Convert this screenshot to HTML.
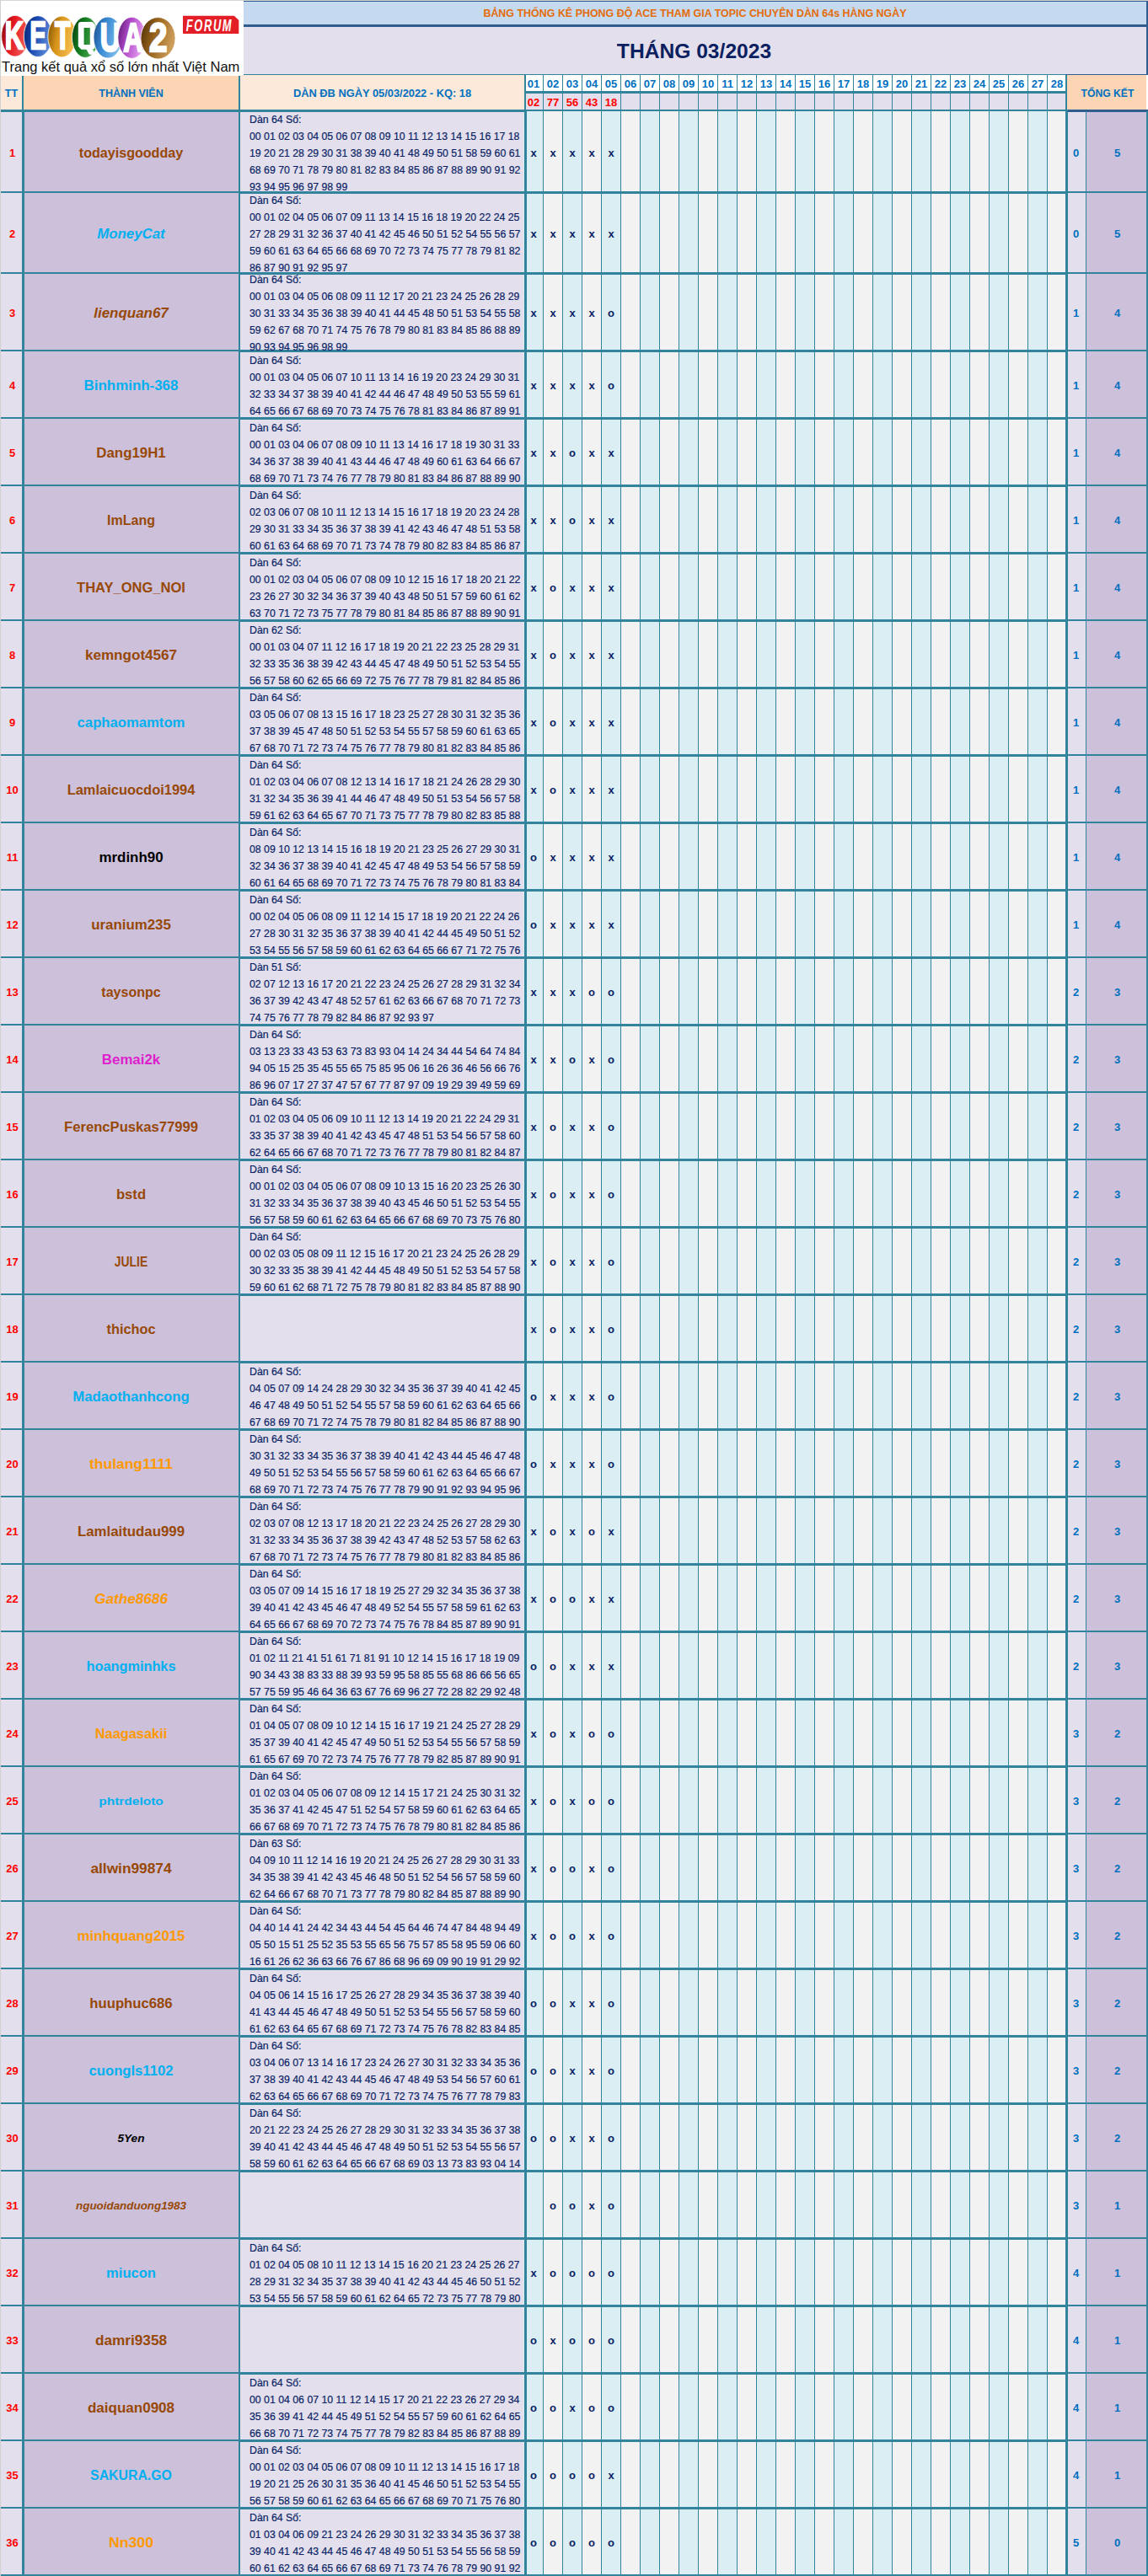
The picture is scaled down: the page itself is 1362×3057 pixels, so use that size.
<!DOCTYPE html>
<html><head><meta charset="utf-8"><title>KETQUA2</title><style>
html,body{margin:0;padding:0;background:#fff;overflow:hidden}
#p{position:relative;width:1362px;height:3057px;overflow:hidden;font-family:"Liberation Sans",sans-serif}
#p div{position:absolute}
.tag{font-size:16.5px;line-height:22px;color:#111;white-space:nowrap}
.ttl{font-size:12px;line-height:27px;color:#e46c0a;font-weight:bold;text-align:center;white-space:nowrap}
.mon{font-size:23px;line-height:58px;color:#0b2060;font-weight:bold;text-align:center;white-space:nowrap}
.hd{font-size:12.5px;line-height:41px;color:#0070c0;font-weight:bold;text-align:center;white-space:nowrap}
.dh{font-size:13px;line-height:20px;color:#0070c0;font-weight:bold;text-align:center}
.dr{font-size:13px;line-height:20px;color:#ff0000;font-weight:bold;text-align:center}
.tt{font-size:13px;line-height:20px;color:#ff0000;font-weight:bold;text-align:center}
.tk{font-size:13px;line-height:20px;color:#0070c0;font-weight:bold;text-align:center}
.mk{font-size:13px;line-height:20px;color:#0a1f66;font-weight:bold;text-align:center}
.nm{font-size:16px;line-height:22px;font-weight:bold;text-align:center;white-space:nowrap}
.dn{font-size:12.3px;line-height:20px;color:#0a1f66;white-space:nowrap;-webkit-text-stroke:0.2px #0a1f66}
</style></head>
<body><div id="p">
<div style="left:0px;top:0px;width:1362px;height:3057px;background:#ffffff;"></div>
<div style="left:0px;top:0px;width:1362px;height:1px;background:#d6d6d6;"></div>
<div style="left:0px;top:0px;width:1px;height:3057px;background:#d0d0d0;"></div>
<div style="left:289px;top:1px;width:1073px;height:1px;background:#2f5d8f;"></div>
<div style="left:289px;top:2px;width:1071px;height:27px;background:#c5d9f1;"></div>
<div style="left:289px;top:29px;width:1073px;height:3px;background:#2f5d8f;"></div>
<div style="left:289px;top:32px;width:1071px;height:56px;background:#e4dfec;"></div>
<div style="left:1360px;top:1px;width:2px;height:88px;background:#2f5d8f;"></div>
<div style="left:1px;top:90px;width:25px;height:40px;background:#fde9d9;"></div>
<div style="left:28px;top:90px;width:255px;height:40px;background:#fcd5b4;"></div>
<div style="left:285px;top:89px;width:337px;height:41px;background:#fde9d9;"></div>
<div style="left:1266px;top:89px;width:94px;height:41px;background:#fcd5b4;"></div>
<div style="left:624px;top:88px;width:641px;height:21px;background:#ffffff;"></div>
<div style="left:624px;top:110px;width:641px;height:21px;background:#e4dfec;"></div>
<div style="left:1px;top:132px;width:25px;height:2925px;background:#e4dfec;"></div>
<div style="left:28px;top:132px;width:255px;height:2925px;background:#ccc0da;"></div>
<div style="left:285px;top:132px;width:337px;height:2925px;background:#e4dfec;"></div>
<div style="left:624px;top:132px;width:641px;height:2925px;background:#f2f2f2;"></div>
<div style="left:621px;top:132px;width:23px;height:2925px;background:#daeef3;"></div>
<div style="left:667px;top:132px;width:23px;height:2925px;background:#daeef3;"></div>
<div style="left:713px;top:132px;width:23px;height:2925px;background:#daeef3;"></div>
<div style="left:759px;top:132px;width:23px;height:2925px;background:#daeef3;"></div>
<div style="left:805px;top:132px;width:23px;height:2925px;background:#daeef3;"></div>
<div style="left:851px;top:132px;width:23px;height:2925px;background:#daeef3;"></div>
<div style="left:897px;top:132px;width:23px;height:2925px;background:#daeef3;"></div>
<div style="left:943px;top:132px;width:23px;height:2925px;background:#daeef3;"></div>
<div style="left:989px;top:132px;width:23px;height:2925px;background:#daeef3;"></div>
<div style="left:1035px;top:132px;width:23px;height:2925px;background:#daeef3;"></div>
<div style="left:1081px;top:132px;width:23px;height:2925px;background:#daeef3;"></div>
<div style="left:1127px;top:132px;width:23px;height:2925px;background:#daeef3;"></div>
<div style="left:1173px;top:132px;width:23px;height:2925px;background:#daeef3;"></div>
<div style="left:1219px;top:132px;width:23px;height:2925px;background:#daeef3;"></div>
<div style="left:1266px;top:132px;width:22px;height:2925px;background:#e4dfec;"></div>
<div style="left:1289px;top:132px;width:71px;height:2925px;background:#ccc0da;"></div>
<div style="left:26px;top:90px;width:2px;height:40px;background:#31849b;"></div>
<div style="left:283px;top:90px;width:2px;height:40px;background:#31849b;"></div>
<div style="left:622px;top:88px;width:2px;height:43px;background:#31849b;"></div>
<div style="left:1264px;top:88px;width:2px;height:43px;background:#31849b;"></div>
<div style="left:289px;top:88px;width:976px;height:1px;background:#31849b;"></div>
<div style="left:624px;top:108px;width:641px;height:3px;background:#31849b;"></div>
<div style="left:622px;top:130px;width:643px;height:2px;background:#31849b;"></div>
<div style="left:1264px;top:88px;width:98px;height:1px;background:#2f5d8f;"></div>
<div style="left:1264px;top:130px;width:98px;height:3px;background:#2f5d8f;"></div>
<div style="left:1px;top:130px;width:622px;height:3px;background:#31849b;"></div>
<div style="left:644px;top:88px;width:1px;height:2969px;background:#31849b;"></div>
<div style="left:667px;top:88px;width:1px;height:2969px;background:#31849b;"></div>
<div style="left:690px;top:88px;width:1px;height:2969px;background:#31849b;"></div>
<div style="left:713px;top:88px;width:1px;height:2969px;background:#31849b;"></div>
<div style="left:736px;top:88px;width:1px;height:2969px;background:#31849b;"></div>
<div style="left:759px;top:88px;width:1px;height:2969px;background:#31849b;"></div>
<div style="left:782px;top:88px;width:1px;height:2969px;background:#31849b;"></div>
<div style="left:805px;top:88px;width:1px;height:2969px;background:#31849b;"></div>
<div style="left:828px;top:88px;width:1px;height:2969px;background:#31849b;"></div>
<div style="left:851px;top:88px;width:1px;height:2969px;background:#31849b;"></div>
<div style="left:874px;top:88px;width:1px;height:2969px;background:#31849b;"></div>
<div style="left:897px;top:88px;width:1px;height:2969px;background:#31849b;"></div>
<div style="left:920px;top:88px;width:1px;height:2969px;background:#31849b;"></div>
<div style="left:943px;top:88px;width:1px;height:2969px;background:#31849b;"></div>
<div style="left:966px;top:88px;width:1px;height:2969px;background:#31849b;"></div>
<div style="left:989px;top:88px;width:1px;height:2969px;background:#31849b;"></div>
<div style="left:1012px;top:88px;width:1px;height:2969px;background:#31849b;"></div>
<div style="left:1035px;top:88px;width:1px;height:2969px;background:#31849b;"></div>
<div style="left:1058px;top:88px;width:1px;height:2969px;background:#31849b;"></div>
<div style="left:1081px;top:88px;width:1px;height:2969px;background:#31849b;"></div>
<div style="left:1104px;top:88px;width:1px;height:2969px;background:#31849b;"></div>
<div style="left:1127px;top:88px;width:1px;height:2969px;background:#31849b;"></div>
<div style="left:1150px;top:88px;width:1px;height:2969px;background:#31849b;"></div>
<div style="left:1173px;top:88px;width:1px;height:2969px;background:#31849b;"></div>
<div style="left:1196px;top:88px;width:1px;height:2969px;background:#31849b;"></div>
<div style="left:1219px;top:88px;width:1px;height:2969px;background:#31849b;"></div>
<div style="left:1242px;top:88px;width:1px;height:2969px;background:#31849b;"></div>
<div style="left:26px;top:130px;width:3px;height:2927px;background:#31849b;"></div>
<div style="left:283px;top:130px;width:2px;height:2927px;background:#31849b;"></div>
<div style="left:622px;top:130px;width:3px;height:2927px;background:#31849b;"></div>
<div style="left:1264px;top:130px;width:3px;height:2927px;background:#31849b;"></div>
<div style="left:1288px;top:132px;width:1px;height:2925px;background:#31849b;"></div>
<div style="left:1360px;top:132px;width:2px;height:2925px;background:#31849b;"></div>
<div style="left:1px;top:227px;width:283px;height:2px;background:#31849b;"></div>
<div style="left:283px;top:227px;width:982px;height:3px;background:#31849b;"></div>
<div style="left:1265px;top:227px;width:97px;height:2px;background:#31849b;"></div>
<div style="left:1px;top:323px;width:283px;height:2px;background:#31849b;"></div>
<div style="left:283px;top:323px;width:982px;height:3px;background:#31849b;"></div>
<div style="left:1265px;top:323px;width:97px;height:2px;background:#31849b;"></div>
<div style="left:1px;top:415px;width:283px;height:2px;background:#31849b;"></div>
<div style="left:283px;top:415px;width:982px;height:3px;background:#31849b;"></div>
<div style="left:1265px;top:415px;width:97px;height:2px;background:#31849b;"></div>
<div style="left:1px;top:495px;width:283px;height:2px;background:#31849b;"></div>
<div style="left:283px;top:495px;width:982px;height:3px;background:#31849b;"></div>
<div style="left:1265px;top:495px;width:97px;height:2px;background:#31849b;"></div>
<div style="left:1px;top:575px;width:283px;height:2px;background:#31849b;"></div>
<div style="left:283px;top:575px;width:982px;height:3px;background:#31849b;"></div>
<div style="left:1265px;top:575px;width:97px;height:2px;background:#31849b;"></div>
<div style="left:1px;top:655px;width:283px;height:2px;background:#31849b;"></div>
<div style="left:283px;top:655px;width:982px;height:3px;background:#31849b;"></div>
<div style="left:1265px;top:655px;width:97px;height:2px;background:#31849b;"></div>
<div style="left:1px;top:735px;width:283px;height:2px;background:#31849b;"></div>
<div style="left:283px;top:735px;width:982px;height:3px;background:#31849b;"></div>
<div style="left:1265px;top:735px;width:97px;height:2px;background:#31849b;"></div>
<div style="left:1px;top:815px;width:283px;height:2px;background:#31849b;"></div>
<div style="left:283px;top:815px;width:982px;height:3px;background:#31849b;"></div>
<div style="left:1265px;top:815px;width:97px;height:2px;background:#31849b;"></div>
<div style="left:1px;top:895px;width:283px;height:2px;background:#31849b;"></div>
<div style="left:283px;top:895px;width:982px;height:3px;background:#31849b;"></div>
<div style="left:1265px;top:895px;width:97px;height:2px;background:#31849b;"></div>
<div style="left:1px;top:975px;width:283px;height:2px;background:#31849b;"></div>
<div style="left:283px;top:975px;width:982px;height:3px;background:#31849b;"></div>
<div style="left:1265px;top:975px;width:97px;height:2px;background:#31849b;"></div>
<div style="left:1px;top:1055px;width:283px;height:2px;background:#31849b;"></div>
<div style="left:283px;top:1055px;width:982px;height:3px;background:#31849b;"></div>
<div style="left:1265px;top:1055px;width:97px;height:2px;background:#31849b;"></div>
<div style="left:1px;top:1135px;width:283px;height:2px;background:#31849b;"></div>
<div style="left:283px;top:1135px;width:982px;height:3px;background:#31849b;"></div>
<div style="left:1265px;top:1135px;width:97px;height:2px;background:#31849b;"></div>
<div style="left:1px;top:1215px;width:283px;height:2px;background:#31849b;"></div>
<div style="left:283px;top:1215px;width:982px;height:3px;background:#31849b;"></div>
<div style="left:1265px;top:1215px;width:97px;height:2px;background:#31849b;"></div>
<div style="left:1px;top:1295px;width:283px;height:2px;background:#31849b;"></div>
<div style="left:283px;top:1295px;width:982px;height:3px;background:#31849b;"></div>
<div style="left:1265px;top:1295px;width:97px;height:2px;background:#31849b;"></div>
<div style="left:1px;top:1375px;width:283px;height:2px;background:#31849b;"></div>
<div style="left:283px;top:1375px;width:982px;height:3px;background:#31849b;"></div>
<div style="left:1265px;top:1375px;width:97px;height:2px;background:#31849b;"></div>
<div style="left:1px;top:1455px;width:283px;height:2px;background:#31849b;"></div>
<div style="left:283px;top:1455px;width:982px;height:3px;background:#31849b;"></div>
<div style="left:1265px;top:1455px;width:97px;height:2px;background:#31849b;"></div>
<div style="left:1px;top:1535px;width:283px;height:2px;background:#31849b;"></div>
<div style="left:283px;top:1535px;width:982px;height:3px;background:#31849b;"></div>
<div style="left:1265px;top:1535px;width:97px;height:2px;background:#31849b;"></div>
<div style="left:1px;top:1615px;width:283px;height:2px;background:#31849b;"></div>
<div style="left:283px;top:1615px;width:982px;height:3px;background:#31849b;"></div>
<div style="left:1265px;top:1615px;width:97px;height:2px;background:#31849b;"></div>
<div style="left:1px;top:1695px;width:283px;height:2px;background:#31849b;"></div>
<div style="left:283px;top:1695px;width:982px;height:3px;background:#31849b;"></div>
<div style="left:1265px;top:1695px;width:97px;height:2px;background:#31849b;"></div>
<div style="left:1px;top:1775px;width:283px;height:2px;background:#31849b;"></div>
<div style="left:283px;top:1775px;width:982px;height:3px;background:#31849b;"></div>
<div style="left:1265px;top:1775px;width:97px;height:2px;background:#31849b;"></div>
<div style="left:1px;top:1855px;width:283px;height:2px;background:#31849b;"></div>
<div style="left:283px;top:1855px;width:982px;height:3px;background:#31849b;"></div>
<div style="left:1265px;top:1855px;width:97px;height:2px;background:#31849b;"></div>
<div style="left:1px;top:1935px;width:283px;height:2px;background:#31849b;"></div>
<div style="left:283px;top:1935px;width:982px;height:3px;background:#31849b;"></div>
<div style="left:1265px;top:1935px;width:97px;height:2px;background:#31849b;"></div>
<div style="left:1px;top:2015px;width:283px;height:2px;background:#31849b;"></div>
<div style="left:283px;top:2015px;width:982px;height:3px;background:#31849b;"></div>
<div style="left:1265px;top:2015px;width:97px;height:2px;background:#31849b;"></div>
<div style="left:1px;top:2095px;width:283px;height:2px;background:#31849b;"></div>
<div style="left:283px;top:2095px;width:982px;height:3px;background:#31849b;"></div>
<div style="left:1265px;top:2095px;width:97px;height:2px;background:#31849b;"></div>
<div style="left:1px;top:2175px;width:283px;height:2px;background:#31849b;"></div>
<div style="left:283px;top:2175px;width:982px;height:3px;background:#31849b;"></div>
<div style="left:1265px;top:2175px;width:97px;height:2px;background:#31849b;"></div>
<div style="left:1px;top:2255px;width:283px;height:2px;background:#31849b;"></div>
<div style="left:283px;top:2255px;width:982px;height:3px;background:#31849b;"></div>
<div style="left:1265px;top:2255px;width:97px;height:2px;background:#31849b;"></div>
<div style="left:1px;top:2335px;width:283px;height:2px;background:#31849b;"></div>
<div style="left:283px;top:2335px;width:982px;height:3px;background:#31849b;"></div>
<div style="left:1265px;top:2335px;width:97px;height:2px;background:#31849b;"></div>
<div style="left:1px;top:2415px;width:283px;height:2px;background:#31849b;"></div>
<div style="left:283px;top:2415px;width:982px;height:3px;background:#31849b;"></div>
<div style="left:1265px;top:2415px;width:97px;height:2px;background:#31849b;"></div>
<div style="left:1px;top:2495px;width:283px;height:2px;background:#31849b;"></div>
<div style="left:283px;top:2495px;width:982px;height:3px;background:#31849b;"></div>
<div style="left:1265px;top:2495px;width:97px;height:2px;background:#31849b;"></div>
<div style="left:1px;top:2575px;width:283px;height:2px;background:#31849b;"></div>
<div style="left:283px;top:2575px;width:982px;height:3px;background:#31849b;"></div>
<div style="left:1265px;top:2575px;width:97px;height:2px;background:#31849b;"></div>
<div style="left:1px;top:2655px;width:283px;height:2px;background:#31849b;"></div>
<div style="left:283px;top:2655px;width:982px;height:3px;background:#31849b;"></div>
<div style="left:1265px;top:2655px;width:97px;height:2px;background:#31849b;"></div>
<div style="left:1px;top:2735px;width:283px;height:2px;background:#31849b;"></div>
<div style="left:283px;top:2735px;width:982px;height:3px;background:#31849b;"></div>
<div style="left:1265px;top:2735px;width:97px;height:2px;background:#31849b;"></div>
<div style="left:1px;top:2815px;width:283px;height:2px;background:#31849b;"></div>
<div style="left:283px;top:2815px;width:982px;height:3px;background:#31849b;"></div>
<div style="left:1265px;top:2815px;width:97px;height:2px;background:#31849b;"></div>
<div style="left:1px;top:2895px;width:283px;height:2px;background:#31849b;"></div>
<div style="left:283px;top:2895px;width:982px;height:3px;background:#31849b;"></div>
<div style="left:1265px;top:2895px;width:97px;height:2px;background:#31849b;"></div>
<div style="left:1px;top:2975px;width:283px;height:2px;background:#31849b;"></div>
<div style="left:283px;top:2975px;width:982px;height:3px;background:#31849b;"></div>
<div style="left:1265px;top:2975px;width:97px;height:2px;background:#31849b;"></div>
<div style="left:1px;top:3055px;width:283px;height:2px;background:#31849b;"></div>
<div style="left:283px;top:3055px;width:982px;height:3px;background:#31849b;"></div>
<div style="left:1265px;top:3055px;width:97px;height:2px;background:#31849b;"></div>
<svg style="position:absolute;left:0;top:0" width="289" height="89" viewBox="0 0 289 89"><defs>
<linearGradient id="gr" x1="0" y1="0" x2="1" y2="0.3"><stop offset="0" stop-color="#7c0a0e"/><stop offset="0.45" stop-color="#e3161d"/><stop offset="1" stop-color="#f25a5a"/></linearGradient>
<linearGradient id="gb" x1="0" y1="0" x2="1" y2="0.3"><stop offset="0" stop-color="#0b2468"/><stop offset="0.45" stop-color="#1846b0"/><stop offset="1" stop-color="#5b8ad8"/></linearGradient>
<linearGradient id="go" x1="0" y1="0" x2="1" y2="0.3"><stop offset="0" stop-color="#7a4c06"/><stop offset="0.45" stop-color="#d8941a"/><stop offset="1" stop-color="#f6be50"/></linearGradient>
<linearGradient id="gg" x1="0" y1="0" x2="1" y2="0.3"><stop offset="0" stop-color="#063c0c"/><stop offset="0.45" stop-color="#137a20"/><stop offset="1" stop-color="#4aaa50"/></linearGradient>
<linearGradient id="gl" x1="0" y1="0" x2="1" y2="0.3"><stop offset="0" stop-color="#1a4a88"/><stop offset="0.45" stop-color="#3888d2"/><stop offset="1" stop-color="#80c0f0"/></linearGradient>
<linearGradient id="gp" x1="0" y1="0" x2="1" y2="0.3"><stop offset="0" stop-color="#56186e"/><stop offset="0.45" stop-color="#b048c8"/><stop offset="1" stop-color="#e6a0f0"/></linearGradient>
<linearGradient id="gn" x1="0" y1="0" x2="1" y2="0.3"><stop offset="0" stop-color="#4a2c06"/><stop offset="0.45" stop-color="#94601a"/><stop offset="1" stop-color="#cc9c5a"/></linearGradient>
</defs>
<ellipse cx="17.9" cy="42.7" rx="16.2" ry="24.4" fill="url(#gr)" stroke="#ffffff" stroke-width="0.8"/>
<text transform="translate(16.85 58.2) scale(0.712 1.084)" fill="#ffffff" stroke="#ffffff" stroke-width="2.2" font-family="Liberation Sans" font-weight="bold" font-size="43" text-anchor="middle">K</text>
<ellipse cx="45.0" cy="43.1" rx="16.7" ry="24.4" fill="url(#gb)" stroke="#ffffff" stroke-width="0.8"/>
<text transform="translate(45.1 58.2) scale(0.675 1.084)" fill="#ffffff" stroke="#ffffff" stroke-width="2.2" font-family="Liberation Sans" font-weight="bold" font-size="43" text-anchor="middle">E</text>
<ellipse cx="73.5" cy="43.5" rx="16.6" ry="24.4" fill="url(#go)" stroke="#ffffff" stroke-width="0.8"/>
<text transform="translate(74.25 58.2) scale(0.709 1.084)" fill="#ffffff" stroke="#ffffff" stroke-width="2.2" font-family="Liberation Sans" font-weight="bold" font-size="43" text-anchor="middle">T</text>
<ellipse cx="101.2" cy="44.2" rx="15.8" ry="24.2" fill="url(#gg)" stroke="#ffffff" stroke-width="0.8"/>
<path fill="#ffffff" fill-rule="evenodd" d="M96 26 H109.5 L112.8 29.3 V55 Q112.8 58 110 58.5 L113.5 64.8 H106 L102.5 58.8 H96.5 L92.8 55 V29.5 Q92.8 26 96 26 Z M99.6 33 V53 H106.8 V33 Z"/>
<ellipse cx="128.0" cy="44.5" rx="17.0" ry="24.5" fill="url(#gl)" stroke="#ffffff" stroke-width="0.8"/>
<text transform="translate(130.7 60.8) scale(0.778 1.103)" fill="#ffffff" stroke="#ffffff" stroke-width="2.2" font-family="Liberation Sans" font-weight="bold" font-size="43" text-anchor="middle">U</text>
<ellipse cx="156.5" cy="44.8" rx="16.6" ry="24.5" fill="url(#gp)" stroke="#ffffff" stroke-width="0.8"/>
<text transform="translate(158.0 60.8) scale(0.756 1.103)" fill="#ffffff" stroke="#ffffff" stroke-width="2.2" font-family="Liberation Sans" font-weight="bold" font-size="43" text-anchor="middle">A</text>
<ellipse cx="187.5" cy="45.3" rx="20.5" ry="24.7" fill="url(#gn)" stroke="#ffffff" stroke-width="0.8"/>
<text transform="translate(187.7 60.8) scale(0.894 1.103)" fill="#ffffff" stroke="#ffffff" stroke-width="2.2" font-family="Liberation Sans" font-weight="bold" font-size="43" text-anchor="middle">2</text>
<path d="M217 18.8 L277.8 18.8 L283.3 24 L283.3 40 L217 40 Z" fill="#e41e26"/>
<text transform="translate(248.5 37) scale(0.66 1)" fill="#ffffff" font-family="Liberation Sans" font-weight="bold" font-style="italic" font-size="19.5" text-anchor="middle" letter-spacing="2.5">FORUM</text>
</svg>
<div class="tag" style="left:2px;top:68px;width:290px;height:22px;transform:scaleX(1.0);transform-origin:0 0">Trang kết quả xổ số lớn nhất Việt Nam</div>
<div class="ttl" style="left:289px;top:2.5px;width:1071px;height:27px;transform:scaleX(1.037)">BẢNG THỐNG KÊ PHONG ĐỘ ACE THAM GIA TOPIC CHUYÊN DÀN 64s HÀNG NGÀY</div>
<div class="mon" style="left:288px;top:32px;width:1071px;height:56px;transform:scaleX(1.07)">THÁNG 03/2023</div>
<div class="hd" style="left:1px;top:91px;width:25px;height:41px;transform:scaleX(1.0)">TT</div>
<div class="hd" style="left:28px;top:91px;width:255px;height:41px;transform:scaleX(1.0)">THÀNH VIÊN</div>
<div class="hd" style="left:285px;top:91px;width:337px;height:41px;transform:scaleX(1.028)">DÀN ĐB NGÀY 05/03/2022 - KQ: 18</div>
<div class="hd" style="left:1267px;top:91px;width:94px;height:41px;transform:scaleX(0.973)">TỔNG KẾT</div>
<div class="dh" style="left:622px;top:90px;width:22px;height:19px;">01</div>
<div class="dr" style="left:622px;top:112px;width:22px;height:19px;">02</div>
<div class="dh" style="left:645px;top:90px;width:22px;height:19px;">02</div>
<div class="dr" style="left:645px;top:112px;width:22px;height:19px;">77</div>
<div class="dh" style="left:668px;top:90px;width:22px;height:19px;">03</div>
<div class="dr" style="left:668px;top:112px;width:22px;height:19px;">56</div>
<div class="dh" style="left:691px;top:90px;width:22px;height:19px;">04</div>
<div class="dr" style="left:691px;top:112px;width:22px;height:19px;">43</div>
<div class="dh" style="left:714px;top:90px;width:22px;height:19px;">05</div>
<div class="dr" style="left:714px;top:112px;width:22px;height:19px;">18</div>
<div class="dh" style="left:737px;top:90px;width:22px;height:19px;">06</div>
<div class="dh" style="left:760px;top:90px;width:22px;height:19px;">07</div>
<div class="dh" style="left:783px;top:90px;width:22px;height:19px;">08</div>
<div class="dh" style="left:806px;top:90px;width:22px;height:19px;">09</div>
<div class="dh" style="left:829px;top:90px;width:22px;height:19px;">10</div>
<div class="dh" style="left:852px;top:90px;width:22px;height:19px;">11</div>
<div class="dh" style="left:875px;top:90px;width:22px;height:19px;">12</div>
<div class="dh" style="left:898px;top:90px;width:22px;height:19px;">13</div>
<div class="dh" style="left:921px;top:90px;width:22px;height:19px;">14</div>
<div class="dh" style="left:944px;top:90px;width:22px;height:19px;">15</div>
<div class="dh" style="left:967px;top:90px;width:22px;height:19px;">16</div>
<div class="dh" style="left:990px;top:90px;width:22px;height:19px;">17</div>
<div class="dh" style="left:1013px;top:90px;width:22px;height:19px;">18</div>
<div class="dh" style="left:1036px;top:90px;width:22px;height:19px;">19</div>
<div class="dh" style="left:1059px;top:90px;width:22px;height:19px;">20</div>
<div class="dh" style="left:1082px;top:90px;width:22px;height:19px;">21</div>
<div class="dh" style="left:1105px;top:90px;width:22px;height:19px;">22</div>
<div class="dh" style="left:1128px;top:90px;width:22px;height:19px;">23</div>
<div class="dh" style="left:1151px;top:90px;width:22px;height:19px;">24</div>
<div class="dh" style="left:1174px;top:90px;width:22px;height:19px;">25</div>
<div class="dh" style="left:1197px;top:90px;width:22px;height:19px;">26</div>
<div class="dh" style="left:1220px;top:90px;width:22px;height:19px;">27</div>
<div class="dh" style="left:1243px;top:90px;width:22px;height:19px;">28</div>
<div class="tt" style="left:2px;top:172px;width:25px;height:20px;">1</div>
<div class="nm" style="left:28px;top:171px;width:255px;height:22px;color:#984807;font-size:16.00px;transform:scaleX(1.0049)">todayisgoodday</div>
<div class="dn" style="left:296px;top:131.9px;width:330px;height:100px;transform:scaleX(1.0);transform-origin:0 0">Dàn 64 Số:<br>00 01 02 03 04 05 06 07 08 09 10 11 12 13 14 15 16 17 18<br>19 20 21 28 29 30 31 38 39 40 41 48 49 50 51 58 59 60 61<br>68 69 70 71 78 79 80 81 82 83 84 85 86 87 88 89 90 91 92<br>93 94 95 96 97 98 99</div>
<div class="mk" style="left:622px;top:172px;width:22px;height:20px;">x</div>
<div class="mk" style="left:645px;top:172px;width:22px;height:20px;">x</div>
<div class="mk" style="left:668px;top:172px;width:22px;height:20px;">x</div>
<div class="mk" style="left:691px;top:172px;width:22px;height:20px;">x</div>
<div class="mk" style="left:714px;top:172px;width:22px;height:20px;">x</div>
<div class="tk" style="left:1266px;top:172px;width:21px;height:20px;">0</div>
<div class="tk" style="left:1290px;top:172px;width:71px;height:20px;">5</div>
<div class="tt" style="left:2px;top:268px;width:25px;height:20px;">2</div>
<div class="nm" style="left:28px;top:267px;width:255px;height:22px;color:#00b0f0;font-style:italic;font-size:16.00px;transform:scaleX(1.0519)">MoneyCat</div>
<div class="dn" style="left:296px;top:227.9px;width:330px;height:100px;transform:scaleX(1.0);transform-origin:0 0">Dàn 64 Số:<br>00 01 02 04 05 06 07 09 11 13 14 15 16 18 19 20 22 24 25<br>27 28 29 31 32 36 37 40 41 42 45 46 50 51 52 54 55 56 57<br>59 60 61 63 64 65 66 68 69 70 72 73 74 75 77 78 79 81 82<br>86 87 90 91 92 95 97</div>
<div class="mk" style="left:622px;top:268px;width:22px;height:20px;">x</div>
<div class="mk" style="left:645px;top:268px;width:22px;height:20px;">x</div>
<div class="mk" style="left:668px;top:268px;width:22px;height:20px;">x</div>
<div class="mk" style="left:691px;top:268px;width:22px;height:20px;">x</div>
<div class="mk" style="left:714px;top:268px;width:22px;height:20px;">x</div>
<div class="tk" style="left:1266px;top:268px;width:21px;height:20px;">0</div>
<div class="tk" style="left:1290px;top:268px;width:71px;height:20px;">5</div>
<div class="tt" style="left:2px;top:362px;width:25px;height:20px;">3</div>
<div class="nm" style="left:28px;top:361px;width:255px;height:22px;color:#984807;font-style:italic;font-size:16.00px;transform:scaleX(1.0596)">lienquan67</div>
<div class="dn" style="left:296px;top:321.9px;width:330px;height:100px;transform:scaleX(1.0);transform-origin:0 0">Dàn 64 Số:<br>00 01 03 04 05 06 08 09 11 12 17 20 21 23 24 25 26 28 29<br>30 31 33 34 35 36 38 39 40 41 44 45 48 50 51 53 54 55 58<br>59 62 67 68 70 71 74 75 76 78 79 80 81 83 84 85 86 88 89<br>90 93 94 95 96 98 99</div>
<div class="mk" style="left:622px;top:362px;width:22px;height:20px;">x</div>
<div class="mk" style="left:645px;top:362px;width:22px;height:20px;">x</div>
<div class="mk" style="left:668px;top:362px;width:22px;height:20px;">x</div>
<div class="mk" style="left:691px;top:362px;width:22px;height:20px;">x</div>
<div class="mk" style="left:714px;top:362px;width:22px;height:20px;">o</div>
<div class="tk" style="left:1266px;top:362px;width:21px;height:20px;">1</div>
<div class="tk" style="left:1290px;top:362px;width:71px;height:20px;">4</div>
<div class="tt" style="left:2px;top:448px;width:25px;height:20px;">4</div>
<div class="nm" style="left:28px;top:447px;width:255px;height:22px;color:#00b0f0;font-size:16.00px;transform:scaleX(1.0578)">Binhminh-368</div>
<div class="dn" style="left:296px;top:417.9px;width:330px;height:100px;transform:scaleX(1.0);transform-origin:0 0">Dàn 64 Số:<br>00 01 03 04 05 06 07 10 11 13 14 16 19 20 23 24 29 30 31<br>32 33 34 37 38 39 40 41 42 44 46 47 48 49 50 53 55 59 61<br>64 65 66 67 68 69 70 73 74 75 76 78 81 83 84 86 87 89 91</div>
<div class="mk" style="left:622px;top:448px;width:22px;height:20px;">x</div>
<div class="mk" style="left:645px;top:448px;width:22px;height:20px;">x</div>
<div class="mk" style="left:668px;top:448px;width:22px;height:20px;">x</div>
<div class="mk" style="left:691px;top:448px;width:22px;height:20px;">x</div>
<div class="mk" style="left:714px;top:448px;width:22px;height:20px;">o</div>
<div class="tk" style="left:1266px;top:448px;width:21px;height:20px;">1</div>
<div class="tk" style="left:1290px;top:448px;width:71px;height:20px;">4</div>
<div class="tt" style="left:2px;top:528px;width:25px;height:20px;">5</div>
<div class="nm" style="left:28px;top:527px;width:255px;height:22px;color:#984807;font-size:16.00px;transform:scaleX(1.0519)">Dang19H1</div>
<div class="dn" style="left:296px;top:497.9px;width:330px;height:100px;transform:scaleX(1.0);transform-origin:0 0">Dàn 64 Số:<br>00 01 03 04 06 07 08 09 10 11 13 14 16 17 18 19 30 31 33<br>34 36 37 38 39 40 41 43 44 46 47 48 49 60 61 63 64 66 67<br>68 69 70 71 73 74 76 77 78 79 80 81 83 84 86 87 88 89 90</div>
<div class="mk" style="left:622px;top:528px;width:22px;height:20px;">x</div>
<div class="mk" style="left:645px;top:528px;width:22px;height:20px;">x</div>
<div class="mk" style="left:668px;top:528px;width:22px;height:20px;">o</div>
<div class="mk" style="left:691px;top:528px;width:22px;height:20px;">x</div>
<div class="mk" style="left:714px;top:528px;width:22px;height:20px;">x</div>
<div class="tk" style="left:1266px;top:528px;width:21px;height:20px;">1</div>
<div class="tk" style="left:1290px;top:528px;width:71px;height:20px;">4</div>
<div class="tt" style="left:2px;top:608px;width:25px;height:20px;">6</div>
<div class="nm" style="left:28px;top:607px;width:255px;height:22px;color:#984807;font-size:16.00px;transform:scaleX(1.0003)">ImLang</div>
<div class="dn" style="left:296px;top:577.9px;width:330px;height:100px;transform:scaleX(1.0);transform-origin:0 0">Dàn 64 Số:<br>02 03 06 07 08 10 11 12 13 14 15 16 17 18 19 20 23 24 28<br>29 30 31 33 34 35 36 37 38 39 41 42 43 46 47 48 51 53 58<br>60 61 63 64 68 69 70 71 73 74 78 79 80 82 83 84 85 86 87</div>
<div class="mk" style="left:622px;top:608px;width:22px;height:20px;">x</div>
<div class="mk" style="left:645px;top:608px;width:22px;height:20px;">x</div>
<div class="mk" style="left:668px;top:608px;width:22px;height:20px;">o</div>
<div class="mk" style="left:691px;top:608px;width:22px;height:20px;">x</div>
<div class="mk" style="left:714px;top:608px;width:22px;height:20px;">x</div>
<div class="tk" style="left:1266px;top:608px;width:21px;height:20px;">1</div>
<div class="tk" style="left:1290px;top:608px;width:71px;height:20px;">4</div>
<div class="tt" style="left:2px;top:688px;width:25px;height:20px;">7</div>
<div class="nm" style="left:28px;top:687px;width:255px;height:22px;color:#984807;font-size:16.00px;transform:scaleX(1.0323)">THAY_ONG_NOI</div>
<div class="dn" style="left:296px;top:657.9px;width:330px;height:100px;transform:scaleX(1.0);transform-origin:0 0">Dàn 64 Số:<br>00 01 02 03 04 05 06 07 08 09 10 12 15 16 17 18 20 21 22<br>23 26 27 30 32 34 36 37 39 40 43 48 50 51 57 59 60 61 62<br>63 70 71 72 73 75 77 78 79 80 81 84 85 86 87 88 89 90 91</div>
<div class="mk" style="left:622px;top:688px;width:22px;height:20px;">x</div>
<div class="mk" style="left:645px;top:688px;width:22px;height:20px;">o</div>
<div class="mk" style="left:668px;top:688px;width:22px;height:20px;">x</div>
<div class="mk" style="left:691px;top:688px;width:22px;height:20px;">x</div>
<div class="mk" style="left:714px;top:688px;width:22px;height:20px;">x</div>
<div class="tk" style="left:1266px;top:688px;width:21px;height:20px;">1</div>
<div class="tk" style="left:1290px;top:688px;width:71px;height:20px;">4</div>
<div class="tt" style="left:2px;top:768px;width:25px;height:20px;">8</div>
<div class="nm" style="left:28px;top:767px;width:255px;height:22px;color:#984807;font-size:16.00px;transform:scaleX(1.0674)">kemngot4567</div>
<div class="dn" style="left:296px;top:737.9px;width:330px;height:100px;transform:scaleX(1.0);transform-origin:0 0">Dàn 62 Số:<br>00 01 03 04 07 11 12 16 17 18 19 20 21 22 23 25 28 29 31<br>32 33 35 36 38 39 42 43 44 45 47 48 49 50 51 52 53 54 55<br>56 57 58 60 62 65 66 69 72 75 76 77 78 79 81 82 84 85 86</div>
<div class="mk" style="left:622px;top:768px;width:22px;height:20px;">x</div>
<div class="mk" style="left:645px;top:768px;width:22px;height:20px;">o</div>
<div class="mk" style="left:668px;top:768px;width:22px;height:20px;">x</div>
<div class="mk" style="left:691px;top:768px;width:22px;height:20px;">x</div>
<div class="mk" style="left:714px;top:768px;width:22px;height:20px;">x</div>
<div class="tk" style="left:1266px;top:768px;width:21px;height:20px;">1</div>
<div class="tk" style="left:1290px;top:768px;width:71px;height:20px;">4</div>
<div class="tt" style="left:2px;top:848px;width:25px;height:20px;">9</div>
<div class="nm" style="left:28px;top:847px;width:255px;height:22px;color:#00b0f0;font-size:16.00px;transform:scaleX(1.0414)">caphaomamtom</div>
<div class="dn" style="left:296px;top:817.9px;width:330px;height:100px;transform:scaleX(1.0);transform-origin:0 0">Dàn 64 Số:<br>03 05 06 07 08 13 15 16 17 18 23 25 27 28 30 31 32 35 36<br>37 38 39 45 47 48 50 51 52 53 54 55 57 58 59 60 61 63 65<br>67 68 70 71 72 73 74 75 76 77 78 79 80 81 82 83 84 85 86</div>
<div class="mk" style="left:622px;top:848px;width:22px;height:20px;">x</div>
<div class="mk" style="left:645px;top:848px;width:22px;height:20px;">o</div>
<div class="mk" style="left:668px;top:848px;width:22px;height:20px;">x</div>
<div class="mk" style="left:691px;top:848px;width:22px;height:20px;">x</div>
<div class="mk" style="left:714px;top:848px;width:22px;height:20px;">x</div>
<div class="tk" style="left:1266px;top:848px;width:21px;height:20px;">1</div>
<div class="tk" style="left:1290px;top:848px;width:71px;height:20px;">4</div>
<div class="tt" style="left:2px;top:928px;width:25px;height:20px;">10</div>
<div class="nm" style="left:28px;top:927px;width:255px;height:22px;color:#984807;font-size:16.00px;transform:scaleX(1.0271)">Lamlaicuocdoi1994</div>
<div class="dn" style="left:296px;top:897.9px;width:330px;height:100px;transform:scaleX(1.0);transform-origin:0 0">Dàn 64 Số:<br>01 02 03 04 06 07 08 12 13 14 16 17 18 21 24 26 28 29 30<br>31 32 34 35 36 39 41 44 46 47 48 49 50 51 53 54 56 57 58<br>59 61 62 63 64 65 67 70 71 73 75 77 78 79 80 82 83 85 88</div>
<div class="mk" style="left:622px;top:928px;width:22px;height:20px;">x</div>
<div class="mk" style="left:645px;top:928px;width:22px;height:20px;">o</div>
<div class="mk" style="left:668px;top:928px;width:22px;height:20px;">x</div>
<div class="mk" style="left:691px;top:928px;width:22px;height:20px;">x</div>
<div class="mk" style="left:714px;top:928px;width:22px;height:20px;">x</div>
<div class="tk" style="left:1266px;top:928px;width:21px;height:20px;">1</div>
<div class="tk" style="left:1290px;top:928px;width:71px;height:20px;">4</div>
<div class="tt" style="left:2px;top:1008px;width:25px;height:20px;">11</div>
<div class="nm" style="left:28px;top:1007px;width:255px;height:22px;color:#000000;font-size:16.00px;transform:scaleX(1.0564)">mrdinh90</div>
<div class="dn" style="left:296px;top:977.9px;width:330px;height:100px;transform:scaleX(1.0);transform-origin:0 0">Dàn 64 Số:<br>08 09 10 12 13 14 15 16 18 19 20 21 23 25 26 27 29 30 31<br>32 34 36 37 38 39 40 41 42 45 47 48 49 53 54 56 57 58 59<br>60 61 64 65 68 69 70 71 72 73 74 75 76 78 79 80 81 83 84</div>
<div class="mk" style="left:622px;top:1008px;width:22px;height:20px;">o</div>
<div class="mk" style="left:645px;top:1008px;width:22px;height:20px;">x</div>
<div class="mk" style="left:668px;top:1008px;width:22px;height:20px;">x</div>
<div class="mk" style="left:691px;top:1008px;width:22px;height:20px;">x</div>
<div class="mk" style="left:714px;top:1008px;width:22px;height:20px;">x</div>
<div class="tk" style="left:1266px;top:1008px;width:21px;height:20px;">1</div>
<div class="tk" style="left:1290px;top:1008px;width:71px;height:20px;">4</div>
<div class="tt" style="left:2px;top:1088px;width:25px;height:20px;">12</div>
<div class="nm" style="left:28px;top:1087px;width:255px;height:22px;color:#984807;font-size:16.00px;transform:scaleX(1.0540)">uranium235</div>
<div class="dn" style="left:296px;top:1057.9px;width:330px;height:100px;transform:scaleX(1.0);transform-origin:0 0">Dàn 64 Số:<br>00 02 04 05 06 08 09 11 12 14 15 17 18 19 20 21 22 24 26<br>27 28 30 31 32 35 36 37 38 39 40 41 42 44 45 49 50 51 52<br>53 54 55 56 57 58 59 60 61 62 63 64 65 66 67 71 72 75 76</div>
<div class="mk" style="left:622px;top:1088px;width:22px;height:20px;">o</div>
<div class="mk" style="left:645px;top:1088px;width:22px;height:20px;">x</div>
<div class="mk" style="left:668px;top:1088px;width:22px;height:20px;">x</div>
<div class="mk" style="left:691px;top:1088px;width:22px;height:20px;">x</div>
<div class="mk" style="left:714px;top:1088px;width:22px;height:20px;">x</div>
<div class="tk" style="left:1266px;top:1088px;width:21px;height:20px;">1</div>
<div class="tk" style="left:1290px;top:1088px;width:71px;height:20px;">4</div>
<div class="tt" style="left:2px;top:1168px;width:25px;height:20px;">13</div>
<div class="nm" style="left:28px;top:1167px;width:255px;height:22px;color:#984807;font-size:16.00px;transform:scaleX(1.0002)">taysonpc</div>
<div class="dn" style="left:296px;top:1137.9px;width:330px;height:100px;transform:scaleX(1.0);transform-origin:0 0">Dàn 51 Số:<br>02 07 12 13 16 17 20 21 22 23 24 25 26 27 28 29 31 32 34<br>36 37 39 42 43 47 48 52 57 61 62 63 66 67 68 70 71 72 73<br>74 75 76 77 78 79 82 84 86 87 92 93 97</div>
<div class="mk" style="left:622px;top:1168px;width:22px;height:20px;">x</div>
<div class="mk" style="left:645px;top:1168px;width:22px;height:20px;">x</div>
<div class="mk" style="left:668px;top:1168px;width:22px;height:20px;">x</div>
<div class="mk" style="left:691px;top:1168px;width:22px;height:20px;">o</div>
<div class="mk" style="left:714px;top:1168px;width:22px;height:20px;">o</div>
<div class="tk" style="left:1266px;top:1168px;width:21px;height:20px;">2</div>
<div class="tk" style="left:1290px;top:1168px;width:71px;height:20px;">3</div>
<div class="tt" style="left:2px;top:1248px;width:25px;height:20px;">14</div>
<div class="nm" style="left:28px;top:1247px;width:255px;height:22px;color:#dd1fcc;font-size:16.00px;transform:scaleX(1.0523)">Bemai2k</div>
<div class="dn" style="left:296px;top:1217.9px;width:330px;height:100px;transform:scaleX(1.0);transform-origin:0 0">Dàn 64 Số:<br>03 13 23 33 43 53 63 73 83 93 04 14 24 34 44 54 64 74 84<br>94 05 15 25 35 45 55 65 75 85 95 06 16 26 36 46 56 66 76<br>86 96 07 17 27 37 47 57 67 77 87 97 09 19 29 39 49 59 69</div>
<div class="mk" style="left:622px;top:1248px;width:22px;height:20px;">x</div>
<div class="mk" style="left:645px;top:1248px;width:22px;height:20px;">x</div>
<div class="mk" style="left:668px;top:1248px;width:22px;height:20px;">o</div>
<div class="mk" style="left:691px;top:1248px;width:22px;height:20px;">x</div>
<div class="mk" style="left:714px;top:1248px;width:22px;height:20px;">o</div>
<div class="tk" style="left:1266px;top:1248px;width:21px;height:20px;">2</div>
<div class="tk" style="left:1290px;top:1248px;width:71px;height:20px;">3</div>
<div class="tt" style="left:2px;top:1328px;width:25px;height:20px;">15</div>
<div class="nm" style="left:28px;top:1327px;width:255px;height:22px;color:#984807;font-size:16.00px;transform:scaleX(1.0381)">FerencPuskas77999</div>
<div class="dn" style="left:296px;top:1297.9px;width:330px;height:100px;transform:scaleX(1.0);transform-origin:0 0">Dàn 64 Số:<br>01 02 03 04 05 06 09 10 11 12 13 14 19 20 21 22 24 29 31<br>33 35 37 38 39 40 41 42 43 45 47 48 51 53 54 56 57 58 60<br>62 64 65 66 67 68 70 71 72 73 76 77 78 79 80 81 82 84 87</div>
<div class="mk" style="left:622px;top:1328px;width:22px;height:20px;">x</div>
<div class="mk" style="left:645px;top:1328px;width:22px;height:20px;">o</div>
<div class="mk" style="left:668px;top:1328px;width:22px;height:20px;">x</div>
<div class="mk" style="left:691px;top:1328px;width:22px;height:20px;">x</div>
<div class="mk" style="left:714px;top:1328px;width:22px;height:20px;">o</div>
<div class="tk" style="left:1266px;top:1328px;width:21px;height:20px;">2</div>
<div class="tk" style="left:1290px;top:1328px;width:71px;height:20px;">3</div>
<div class="tt" style="left:2px;top:1408px;width:25px;height:20px;">16</div>
<div class="nm" style="left:28px;top:1407px;width:255px;height:22px;color:#984807;font-size:16.00px;transform:scaleX(1.0382)">bstd</div>
<div class="dn" style="left:296px;top:1377.9px;width:330px;height:100px;transform:scaleX(1.0);transform-origin:0 0">Dàn 64 Số:<br>00 01 02 03 04 05 06 07 08 09 10 13 15 16 20 23 25 26 30<br>31 32 33 34 35 36 37 38 39 40 43 45 46 50 51 52 53 54 55<br>56 57 58 59 60 61 62 63 64 65 66 67 68 69 70 73 75 76 80</div>
<div class="mk" style="left:622px;top:1408px;width:22px;height:20px;">x</div>
<div class="mk" style="left:645px;top:1408px;width:22px;height:20px;">o</div>
<div class="mk" style="left:668px;top:1408px;width:22px;height:20px;">x</div>
<div class="mk" style="left:691px;top:1408px;width:22px;height:20px;">x</div>
<div class="mk" style="left:714px;top:1408px;width:22px;height:20px;">o</div>
<div class="tk" style="left:1266px;top:1408px;width:21px;height:20px;">2</div>
<div class="tk" style="left:1290px;top:1408px;width:71px;height:20px;">3</div>
<div class="tt" style="left:2px;top:1488px;width:25px;height:20px;">17</div>
<div class="nm" style="left:28px;top:1487px;width:255px;height:22px;color:#984807;font-size:16.00px;transform:scaleX(0.8668)">JULIE</div>
<div class="dn" style="left:296px;top:1457.9px;width:330px;height:100px;transform:scaleX(1.0);transform-origin:0 0">Dàn 64 Số:<br>00 02 03 05 08 09 11 12 15 16 17 20 21 23 24 25 26 28 29<br>30 32 33 35 38 39 41 42 44 45 48 49 50 51 52 53 54 57 58<br>59 60 61 62 68 71 72 75 78 79 80 81 82 83 84 85 87 88 90</div>
<div class="mk" style="left:622px;top:1488px;width:22px;height:20px;">x</div>
<div class="mk" style="left:645px;top:1488px;width:22px;height:20px;">o</div>
<div class="mk" style="left:668px;top:1488px;width:22px;height:20px;">x</div>
<div class="mk" style="left:691px;top:1488px;width:22px;height:20px;">x</div>
<div class="mk" style="left:714px;top:1488px;width:22px;height:20px;">o</div>
<div class="tk" style="left:1266px;top:1488px;width:21px;height:20px;">2</div>
<div class="tk" style="left:1290px;top:1488px;width:71px;height:20px;">3</div>
<div class="tt" style="left:2px;top:1568px;width:25px;height:20px;">18</div>
<div class="nm" style="left:28px;top:1567px;width:255px;height:22px;color:#984807;font-size:16.00px;transform:scaleX(1.0175)">thichoc</div>
<div class="mk" style="left:622px;top:1568px;width:22px;height:20px;">x</div>
<div class="mk" style="left:645px;top:1568px;width:22px;height:20px;">o</div>
<div class="mk" style="left:668px;top:1568px;width:22px;height:20px;">x</div>
<div class="mk" style="left:691px;top:1568px;width:22px;height:20px;">x</div>
<div class="mk" style="left:714px;top:1568px;width:22px;height:20px;">o</div>
<div class="tk" style="left:1266px;top:1568px;width:21px;height:20px;">2</div>
<div class="tk" style="left:1290px;top:1568px;width:71px;height:20px;">3</div>
<div class="tt" style="left:2px;top:1648px;width:25px;height:20px;">19</div>
<div class="nm" style="left:28px;top:1647px;width:255px;height:22px;color:#00b0f0;font-size:16.00px;transform:scaleX(1.0458)">Madaothanhcong</div>
<div class="dn" style="left:296px;top:1617.9px;width:330px;height:100px;transform:scaleX(1.0);transform-origin:0 0">Dàn 64 Số:<br>04 05 07 09 14 24 28 29 30 32 34 35 36 37 39 40 41 42 45<br>46 47 48 49 50 51 52 54 55 57 58 59 60 61 62 63 64 65 66<br>67 68 69 70 71 72 74 75 78 79 80 81 82 84 85 86 87 88 90</div>
<div class="mk" style="left:622px;top:1648px;width:22px;height:20px;">o</div>
<div class="mk" style="left:645px;top:1648px;width:22px;height:20px;">x</div>
<div class="mk" style="left:668px;top:1648px;width:22px;height:20px;">x</div>
<div class="mk" style="left:691px;top:1648px;width:22px;height:20px;">x</div>
<div class="mk" style="left:714px;top:1648px;width:22px;height:20px;">o</div>
<div class="tk" style="left:1266px;top:1648px;width:21px;height:20px;">2</div>
<div class="tk" style="left:1290px;top:1648px;width:71px;height:20px;">3</div>
<div class="tt" style="left:2px;top:1728px;width:25px;height:20px;">20</div>
<div class="nm" style="left:28px;top:1727px;width:255px;height:22px;color:#ff9900;font-size:16.00px;transform:scaleX(1.0901)">thulang1111</div>
<div class="dn" style="left:296px;top:1697.9px;width:330px;height:100px;transform:scaleX(1.0);transform-origin:0 0">Dàn 64 Số:<br>30 31 32 33 34 35 36 37 38 39 40 41 42 43 44 45 46 47 48<br>49 50 51 52 53 54 55 56 57 58 59 60 61 62 63 64 65 66 67<br>68 69 70 71 72 73 74 75 76 77 78 79 90 91 92 93 94 95 96</div>
<div class="mk" style="left:622px;top:1728px;width:22px;height:20px;">o</div>
<div class="mk" style="left:645px;top:1728px;width:22px;height:20px;">x</div>
<div class="mk" style="left:668px;top:1728px;width:22px;height:20px;">x</div>
<div class="mk" style="left:691px;top:1728px;width:22px;height:20px;">x</div>
<div class="mk" style="left:714px;top:1728px;width:22px;height:20px;">o</div>
<div class="tk" style="left:1266px;top:1728px;width:21px;height:20px;">2</div>
<div class="tk" style="left:1290px;top:1728px;width:71px;height:20px;">3</div>
<div class="tt" style="left:2px;top:1808px;width:25px;height:20px;">21</div>
<div class="nm" style="left:28px;top:1807px;width:255px;height:22px;color:#984807;font-size:16.00px;transform:scaleX(1.0500)">Lamlaitudau999</div>
<div class="dn" style="left:296px;top:1777.9px;width:330px;height:100px;transform:scaleX(1.0);transform-origin:0 0">Dàn 64 Số:<br>02 03 07 08 12 13 17 18 20 21 22 23 24 25 26 27 28 29 30<br>31 32 33 34 35 36 37 38 39 42 43 47 48 52 53 57 58 62 63<br>67 68 70 71 72 73 74 75 76 77 78 79 80 81 82 83 84 85 86</div>
<div class="mk" style="left:622px;top:1808px;width:22px;height:20px;">x</div>
<div class="mk" style="left:645px;top:1808px;width:22px;height:20px;">o</div>
<div class="mk" style="left:668px;top:1808px;width:22px;height:20px;">x</div>
<div class="mk" style="left:691px;top:1808px;width:22px;height:20px;">o</div>
<div class="mk" style="left:714px;top:1808px;width:22px;height:20px;">x</div>
<div class="tk" style="left:1266px;top:1808px;width:21px;height:20px;">2</div>
<div class="tk" style="left:1290px;top:1808px;width:71px;height:20px;">3</div>
<div class="tt" style="left:2px;top:1888px;width:25px;height:20px;">22</div>
<div class="nm" style="left:28px;top:1887px;width:255px;height:22px;color:#ff9900;font-style:italic;font-size:16.00px;transform:scaleX(1.0741)">Gathe8686</div>
<div class="dn" style="left:296px;top:1857.9px;width:330px;height:100px;transform:scaleX(1.0);transform-origin:0 0">Dàn 64 Số:<br>03 05 07 09 14 15 16 17 18 19 25 27 29 32 34 35 36 37 38<br>39 40 41 42 43 45 46 47 48 49 52 54 55 57 58 59 61 62 63<br>64 65 66 67 68 69 70 72 73 74 75 76 78 84 85 87 89 90 91</div>
<div class="mk" style="left:622px;top:1888px;width:22px;height:20px;">x</div>
<div class="mk" style="left:645px;top:1888px;width:22px;height:20px;">o</div>
<div class="mk" style="left:668px;top:1888px;width:22px;height:20px;">o</div>
<div class="mk" style="left:691px;top:1888px;width:22px;height:20px;">x</div>
<div class="mk" style="left:714px;top:1888px;width:22px;height:20px;">x</div>
<div class="tk" style="left:1266px;top:1888px;width:21px;height:20px;">2</div>
<div class="tk" style="left:1290px;top:1888px;width:71px;height:20px;">3</div>
<div class="tt" style="left:2px;top:1968px;width:25px;height:20px;">23</div>
<div class="nm" style="left:28px;top:1967px;width:255px;height:22px;color:#00b0f0;font-size:16.00px;transform:scaleX(1.0196)">hoangminhks</div>
<div class="dn" style="left:296px;top:1937.9px;width:330px;height:100px;transform:scaleX(1.0);transform-origin:0 0">Dàn 64 Số:<br>01 02 11 21 41 51 61 71 81 91 10 12 14 15 16 17 18 19 09<br>90 34 43 38 83 33 88 39 93 59 95 58 85 55 68 86 66 56 65<br>57 75 59 95 46 64 36 63 67 76 69 96 27 72 28 82 29 92 48</div>
<div class="mk" style="left:622px;top:1968px;width:22px;height:20px;">o</div>
<div class="mk" style="left:645px;top:1968px;width:22px;height:20px;">o</div>
<div class="mk" style="left:668px;top:1968px;width:22px;height:20px;">x</div>
<div class="mk" style="left:691px;top:1968px;width:22px;height:20px;">x</div>
<div class="mk" style="left:714px;top:1968px;width:22px;height:20px;">x</div>
<div class="tk" style="left:1266px;top:1968px;width:21px;height:20px;">2</div>
<div class="tk" style="left:1290px;top:1968px;width:71px;height:20px;">3</div>
<div class="tt" style="left:2px;top:2048px;width:25px;height:20px;">24</div>
<div class="nm" style="left:28px;top:2047px;width:255px;height:22px;color:#ff9900;font-size:16.00px;transform:scaleX(1.0220)">Naagasakii</div>
<div class="dn" style="left:296px;top:2017.9px;width:330px;height:100px;transform:scaleX(1.0);transform-origin:0 0">Dàn 64 Số:<br>01 04 05 07 08 09 10 12 14 15 16 17 19 21 24 25 27 28 29<br>35 37 39 40 41 42 45 47 49 50 51 52 53 54 55 56 57 58 59<br>61 65 67 69 70 72 73 74 75 76 77 78 79 82 85 87 89 90 91</div>
<div class="mk" style="left:622px;top:2048px;width:22px;height:20px;">x</div>
<div class="mk" style="left:645px;top:2048px;width:22px;height:20px;">o</div>
<div class="mk" style="left:668px;top:2048px;width:22px;height:20px;">x</div>
<div class="mk" style="left:691px;top:2048px;width:22px;height:20px;">o</div>
<div class="mk" style="left:714px;top:2048px;width:22px;height:20px;">o</div>
<div class="tk" style="left:1266px;top:2048px;width:21px;height:20px;">3</div>
<div class="tk" style="left:1290px;top:2048px;width:71px;height:20px;">2</div>
<div class="tt" style="left:2px;top:2128px;width:25px;height:20px;">25</div>
<div class="nm" style="left:28px;top:2127px;width:255px;height:22px;color:#00b0f0;font-size:12.80px;transform:scaleX(1.2097)">phtrdeloto</div>
<div class="dn" style="left:296px;top:2097.9px;width:330px;height:100px;transform:scaleX(1.0);transform-origin:0 0">Dàn 64 Số:<br>01 02 03 04 05 06 07 08 09 12 14 15 17 21 24 25 30 31 32<br>35 36 37 41 42 45 47 51 52 54 57 58 59 60 61 62 63 64 65<br>66 67 68 69 70 71 72 73 74 75 76 78 79 80 81 82 84 85 86</div>
<div class="mk" style="left:622px;top:2128px;width:22px;height:20px;">x</div>
<div class="mk" style="left:645px;top:2128px;width:22px;height:20px;">o</div>
<div class="mk" style="left:668px;top:2128px;width:22px;height:20px;">x</div>
<div class="mk" style="left:691px;top:2128px;width:22px;height:20px;">o</div>
<div class="mk" style="left:714px;top:2128px;width:22px;height:20px;">o</div>
<div class="tk" style="left:1266px;top:2128px;width:21px;height:20px;">3</div>
<div class="tk" style="left:1290px;top:2128px;width:71px;height:20px;">2</div>
<div class="tt" style="left:2px;top:2208px;width:25px;height:20px;">26</div>
<div class="nm" style="left:28px;top:2207px;width:255px;height:22px;color:#984807;font-size:16.00px;transform:scaleX(1.0809)">allwin99874</div>
<div class="dn" style="left:296px;top:2177.9px;width:330px;height:100px;transform:scaleX(1.0);transform-origin:0 0">Dàn 63 Số:<br>04 09 10 11 12 14 16 19 20 21 24 25 26 27 28 29 30 31 33<br>34 35 38 39 41 42 43 45 46 48 50 51 52 54 56 57 58 59 60<br>62 64 66 67 68 70 71 73 77 78 79 80 82 84 85 87 88 89 90</div>
<div class="mk" style="left:622px;top:2208px;width:22px;height:20px;">x</div>
<div class="mk" style="left:645px;top:2208px;width:22px;height:20px;">o</div>
<div class="mk" style="left:668px;top:2208px;width:22px;height:20px;">o</div>
<div class="mk" style="left:691px;top:2208px;width:22px;height:20px;">x</div>
<div class="mk" style="left:714px;top:2208px;width:22px;height:20px;">o</div>
<div class="tk" style="left:1266px;top:2208px;width:21px;height:20px;">3</div>
<div class="tk" style="left:1290px;top:2208px;width:71px;height:20px;">2</div>
<div class="tt" style="left:2px;top:2288px;width:25px;height:20px;">27</div>
<div class="nm" style="left:28px;top:2287px;width:255px;height:22px;color:#ff9900;font-size:16.00px;transform:scaleX(1.0496)">minhquang2015</div>
<div class="dn" style="left:296px;top:2257.9px;width:330px;height:100px;transform:scaleX(1.0);transform-origin:0 0">Dàn 64 Số:<br>04 40 14 41 24 42 34 43 44 54 45 64 46 74 47 84 48 94 49<br>05 50 15 51 25 52 35 53 55 65 56 75 57 85 58 95 59 06 60<br>16 61 26 62 36 63 66 76 67 86 68 96 69 09 90 19 91 29 92</div>
<div class="mk" style="left:622px;top:2288px;width:22px;height:20px;">x</div>
<div class="mk" style="left:645px;top:2288px;width:22px;height:20px;">o</div>
<div class="mk" style="left:668px;top:2288px;width:22px;height:20px;">o</div>
<div class="mk" style="left:691px;top:2288px;width:22px;height:20px;">x</div>
<div class="mk" style="left:714px;top:2288px;width:22px;height:20px;">o</div>
<div class="tk" style="left:1266px;top:2288px;width:21px;height:20px;">3</div>
<div class="tk" style="left:1290px;top:2288px;width:71px;height:20px;">2</div>
<div class="tt" style="left:2px;top:2368px;width:25px;height:20px;">28</div>
<div class="nm" style="left:28px;top:2367px;width:255px;height:22px;color:#984807;font-size:16.00px;transform:scaleX(1.0430)">huuphuc686</div>
<div class="dn" style="left:296px;top:2337.9px;width:330px;height:100px;transform:scaleX(1.0);transform-origin:0 0">Dàn 64 Số:<br>04 05 06 14 15 16 17 25 26 27 28 29 34 35 36 37 38 39 40<br>41 43 44 45 46 47 48 49 50 51 52 53 54 55 56 57 58 59 60<br>61 62 63 64 65 67 68 69 71 72 73 74 75 76 78 82 83 84 85</div>
<div class="mk" style="left:622px;top:2368px;width:22px;height:20px;">o</div>
<div class="mk" style="left:645px;top:2368px;width:22px;height:20px;">o</div>
<div class="mk" style="left:668px;top:2368px;width:22px;height:20px;">x</div>
<div class="mk" style="left:691px;top:2368px;width:22px;height:20px;">x</div>
<div class="mk" style="left:714px;top:2368px;width:22px;height:20px;">o</div>
<div class="tk" style="left:1266px;top:2368px;width:21px;height:20px;">3</div>
<div class="tk" style="left:1290px;top:2368px;width:71px;height:20px;">2</div>
<div class="tt" style="left:2px;top:2448px;width:25px;height:20px;">29</div>
<div class="nm" style="left:28px;top:2447px;width:255px;height:22px;color:#00b0f0;font-size:16.00px;transform:scaleX(1.0400)">cuongls1102</div>
<div class="dn" style="left:296px;top:2417.9px;width:330px;height:100px;transform:scaleX(1.0);transform-origin:0 0">Dàn 64 Số:<br>03 04 06 07 13 14 16 17 23 24 26 27 30 31 32 33 34 35 36<br>37 38 39 40 41 42 43 44 45 46 47 48 49 53 54 56 57 60 61<br>62 63 64 65 66 67 68 69 70 71 72 73 74 75 76 77 78 79 83</div>
<div class="mk" style="left:622px;top:2448px;width:22px;height:20px;">o</div>
<div class="mk" style="left:645px;top:2448px;width:22px;height:20px;">o</div>
<div class="mk" style="left:668px;top:2448px;width:22px;height:20px;">x</div>
<div class="mk" style="left:691px;top:2448px;width:22px;height:20px;">x</div>
<div class="mk" style="left:714px;top:2448px;width:22px;height:20px;">o</div>
<div class="tk" style="left:1266px;top:2448px;width:21px;height:20px;">3</div>
<div class="tk" style="left:1290px;top:2448px;width:71px;height:20px;">2</div>
<div class="tt" style="left:2px;top:2528px;width:25px;height:20px;">30</div>
<div class="nm" style="left:28px;top:2527px;width:255px;height:22px;color:#000000;font-style:italic;font-size:12.80px;transform:scaleX(1.0656)">5Yen</div>
<div class="dn" style="left:296px;top:2497.9px;width:330px;height:100px;transform:scaleX(1.0);transform-origin:0 0">Dàn 64 Số:<br>20 21 22 23 24 25 26 27 28 29 30 31 32 33 34 35 36 37 38<br>39 40 41 42 43 44 45 46 47 48 49 50 51 52 53 54 55 56 57<br>58 59 60 61 62 63 64 65 66 67 68 69 03 13 73 83 93 04 14</div>
<div class="mk" style="left:622px;top:2528px;width:22px;height:20px;">o</div>
<div class="mk" style="left:645px;top:2528px;width:22px;height:20px;">o</div>
<div class="mk" style="left:668px;top:2528px;width:22px;height:20px;">x</div>
<div class="mk" style="left:691px;top:2528px;width:22px;height:20px;">x</div>
<div class="mk" style="left:714px;top:2528px;width:22px;height:20px;">o</div>
<div class="tk" style="left:1266px;top:2528px;width:21px;height:20px;">3</div>
<div class="tk" style="left:1290px;top:2528px;width:71px;height:20px;">2</div>
<div class="tt" style="left:2px;top:2608px;width:25px;height:20px;">31</div>
<div class="nm" style="left:28px;top:2607px;width:255px;height:22px;color:#984807;font-style:italic;font-size:13.60px;transform:scaleX(0.9850)">nguoidanduong1983</div>
<div class="mk" style="left:645px;top:2608px;width:22px;height:20px;">o</div>
<div class="mk" style="left:668px;top:2608px;width:22px;height:20px;">o</div>
<div class="mk" style="left:691px;top:2608px;width:22px;height:20px;">x</div>
<div class="mk" style="left:714px;top:2608px;width:22px;height:20px;">o</div>
<div class="tk" style="left:1266px;top:2608px;width:21px;height:20px;">3</div>
<div class="tk" style="left:1290px;top:2608px;width:71px;height:20px;">1</div>
<div class="tt" style="left:2px;top:2688px;width:25px;height:20px;">32</div>
<div class="nm" style="left:28px;top:2687px;width:255px;height:22px;color:#00b0f0;font-size:16.00px;transform:scaleX(1.0328)">miucon</div>
<div class="dn" style="left:296px;top:2657.9px;width:330px;height:100px;transform:scaleX(1.0);transform-origin:0 0">Dàn 64 Số:<br>01 02 04 05 08 10 11 12 13 14 15 16 20 21 23 24 25 26 27<br>28 29 31 32 34 35 37 38 39 40 41 42 43 44 45 46 50 51 52<br>53 54 55 56 57 58 59 60 61 62 64 65 72 73 75 77 78 79 80</div>
<div class="mk" style="left:622px;top:2688px;width:22px;height:20px;">x</div>
<div class="mk" style="left:645px;top:2688px;width:22px;height:20px;">o</div>
<div class="mk" style="left:668px;top:2688px;width:22px;height:20px;">o</div>
<div class="mk" style="left:691px;top:2688px;width:22px;height:20px;">o</div>
<div class="mk" style="left:714px;top:2688px;width:22px;height:20px;">o</div>
<div class="tk" style="left:1266px;top:2688px;width:21px;height:20px;">4</div>
<div class="tk" style="left:1290px;top:2688px;width:71px;height:20px;">1</div>
<div class="tt" style="left:2px;top:2768px;width:25px;height:20px;">33</div>
<div class="nm" style="left:28px;top:2767px;width:255px;height:22px;color:#984807;font-size:16.00px;transform:scaleX(1.0759)">damri9358</div>
<div class="mk" style="left:622px;top:2768px;width:22px;height:20px;">o</div>
<div class="mk" style="left:645px;top:2768px;width:22px;height:20px;">x</div>
<div class="mk" style="left:668px;top:2768px;width:22px;height:20px;">o</div>
<div class="mk" style="left:691px;top:2768px;width:22px;height:20px;">o</div>
<div class="mk" style="left:714px;top:2768px;width:22px;height:20px;">o</div>
<div class="tk" style="left:1266px;top:2768px;width:21px;height:20px;">4</div>
<div class="tk" style="left:1290px;top:2768px;width:71px;height:20px;">1</div>
<div class="tt" style="left:2px;top:2848px;width:25px;height:20px;">34</div>
<div class="nm" style="left:28px;top:2847px;width:255px;height:22px;color:#984807;font-size:16.00px;transform:scaleX(1.0639)">daiquan0908</div>
<div class="dn" style="left:296px;top:2817.9px;width:330px;height:100px;transform:scaleX(1.0);transform-origin:0 0">Dàn 64 Số:<br>00 01 04 06 07 10 11 12 14 15 17 20 21 22 23 26 27 29 34<br>35 36 39 41 42 44 45 49 51 52 54 55 57 59 60 61 62 64 65<br>66 68 70 71 72 73 74 75 77 78 79 82 83 84 85 86 87 88 89</div>
<div class="mk" style="left:622px;top:2848px;width:22px;height:20px;">o</div>
<div class="mk" style="left:645px;top:2848px;width:22px;height:20px;">o</div>
<div class="mk" style="left:668px;top:2848px;width:22px;height:20px;">x</div>
<div class="mk" style="left:691px;top:2848px;width:22px;height:20px;">o</div>
<div class="mk" style="left:714px;top:2848px;width:22px;height:20px;">o</div>
<div class="tk" style="left:1266px;top:2848px;width:21px;height:20px;">4</div>
<div class="tk" style="left:1290px;top:2848px;width:71px;height:20px;">1</div>
<div class="tt" style="left:2px;top:2928px;width:25px;height:20px;">35</div>
<div class="nm" style="left:28px;top:2927px;width:255px;height:22px;color:#00b0f0;font-size:16.00px;transform:scaleX(0.9897)">SAKURA.GO</div>
<div class="dn" style="left:296px;top:2897.9px;width:330px;height:100px;transform:scaleX(1.0);transform-origin:0 0">Dàn 64 Số:<br>00 01 02 03 04 05 06 07 08 09 10 11 12 13 14 15 16 17 18<br>19 20 21 25 26 30 31 35 36 40 41 45 46 50 51 52 53 54 55<br>56 57 58 59 60 61 62 63 64 65 66 67 68 69 70 71 75 76 80</div>
<div class="mk" style="left:622px;top:2928px;width:22px;height:20px;">o</div>
<div class="mk" style="left:645px;top:2928px;width:22px;height:20px;">o</div>
<div class="mk" style="left:668px;top:2928px;width:22px;height:20px;">o</div>
<div class="mk" style="left:691px;top:2928px;width:22px;height:20px;">o</div>
<div class="mk" style="left:714px;top:2928px;width:22px;height:20px;">x</div>
<div class="tk" style="left:1266px;top:2928px;width:21px;height:20px;">4</div>
<div class="tk" style="left:1290px;top:2928px;width:71px;height:20px;">1</div>
<div class="tt" style="left:2px;top:3008px;width:25px;height:20px;">36</div>
<div class="nm" style="left:28px;top:3007px;width:255px;height:22px;color:#ff9900;font-size:16.00px;transform:scaleX(1.1064)">Nn300</div>
<div class="dn" style="left:296px;top:2977.9px;width:330px;height:100px;transform:scaleX(1.0);transform-origin:0 0">Dàn 64 Số:<br>01 03 04 06 09 21 23 24 26 29 30 31 32 33 34 35 36 37 38<br>39 40 41 42 43 44 45 46 47 48 49 50 51 53 54 55 56 58 59<br>60 61 62 63 64 65 66 67 68 69 71 73 74 76 78 79 90 91 92</div>
<div class="mk" style="left:622px;top:3008px;width:22px;height:20px;">o</div>
<div class="mk" style="left:645px;top:3008px;width:22px;height:20px;">o</div>
<div class="mk" style="left:668px;top:3008px;width:22px;height:20px;">o</div>
<div class="mk" style="left:691px;top:3008px;width:22px;height:20px;">o</div>
<div class="mk" style="left:714px;top:3008px;width:22px;height:20px;">o</div>
<div class="tk" style="left:1266px;top:3008px;width:21px;height:20px;">5</div>
<div class="tk" style="left:1290px;top:3008px;width:71px;height:20px;">0</div>
</div></body></html>
